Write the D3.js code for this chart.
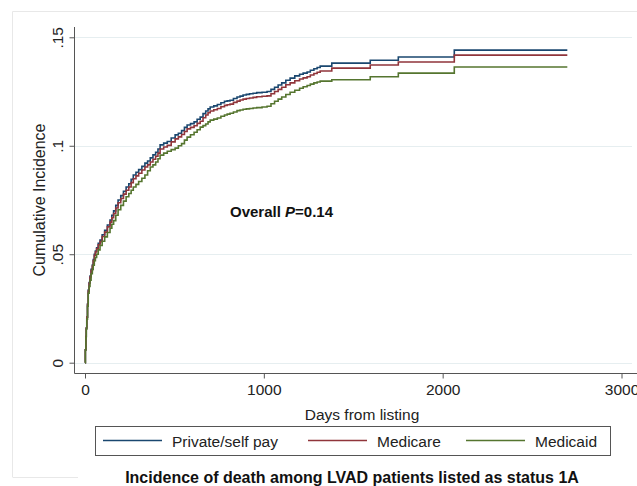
<!DOCTYPE html>
<html>
<head>
<meta charset="utf-8">
<script src="https://cdn.jsdelivr.net/npm/d3@7"></script>
<style>
  body { margin: 0; background: #fff; }
  svg { font-family: Arial, "Liberation Sans", sans-serif; }
  .grid line { stroke: #e6eef0; stroke-width: 1; }
  .axis path, .axis line { stroke: #555; }
  .axis text { fill: #222; font-size: 15.5px; }
  .line { fill: none; stroke-width: 1.6; }
</style>
</head>
<body>
<svg id="chart"></svg>
<script>
// days from listing (shared step times)
const days = [
  0, 2, 5, 7, 10, 14, 18, 23, 28, 34, 41, 46, 52, 58, 65, 74, 84, 96, 110, 125,
  140, 150, 160, 172, 185, 200, 215, 230, 245, 258, 270, 285, 300, 318, 335, 350, 365, 380, 395, 408,
  420, 440, 460, 482, 504, 522, 540, 556, 571, 590, 610, 627, 644, 660, 675, 688, 700, 720, 740, 760,
  780, 795, 811, 830, 850, 867, 884, 902, 920, 940, 960, 990, 1018, 1040, 1060, 1080, 1100, 1123, 1147, 1173,
  1200, 1220, 1242, 1260, 1280, 1298, 1315, 1380, 1595, 1752, 2065, 2697];

const privateSelf = [
  0, 0.006, 0.012, 0.016, 0.021, 0.027, 0.0335, 0.037, 0.040, 0.043, 0.045, 0.0475, 0.050, 0.0515, 0.053, 0.055, 0.0565, 0.059, 0.061, 0.0635,
  0.0658, 0.068, 0.070, 0.0725, 0.075, 0.077, 0.079, 0.081, 0.0825, 0.0845, 0.0865, 0.0878, 0.089, 0.0905, 0.092, 0.093, 0.0944, 0.0958, 0.097, 0.0985,
  0.1004, 0.1012, 0.102, 0.1036, 0.105, 0.1058, 0.107, 0.1085, 0.1096, 0.1102, 0.111, 0.1122, 0.1132, 0.1148, 0.116, 0.117, 0.1179, 0.1184, 0.119, 0.1198,
  0.1205, 0.1207, 0.121, 0.1218, 0.1225, 0.1229, 0.1234, 0.1237, 0.124, 0.1242, 0.1245, 0.1247, 0.125, 0.126, 0.127, 0.128, 0.129, 0.1302, 0.1312, 0.1322,
  0.133, 0.1335, 0.134, 0.1348, 0.1355, 0.1361, 0.1367, 0.1381, 0.1394, 0.1409, 0.1441, 0.1441];

const medicare = [
  0, 0.006, 0.012, 0.016, 0.021, 0.0268, 0.033, 0.0366, 0.0395, 0.0425, 0.0445, 0.047, 0.0495, 0.051, 0.0525, 0.0543, 0.0558, 0.0582, 0.0602, 0.0626,
  0.0648, 0.0668, 0.0688, 0.0713, 0.0737, 0.0757, 0.0777, 0.0795, 0.0810, 0.0830, 0.0848, 0.0861, 0.0873, 0.0888, 0.0902, 0.0912, 0.0925, 0.0938, 0.0952, 0.0966,
  0.0985, 0.0994, 0.1002, 0.1018, 0.1032, 0.1041, 0.1052, 0.1066, 0.1078, 0.1085, 0.1092, 0.1103, 0.1113, 0.1129, 0.1142, 0.1152, 0.1160, 0.1166, 0.1172, 0.1180,
  0.1186, 0.1189, 0.1192, 0.1200, 0.1206, 0.1211, 0.1215, 0.1218, 0.1220, 0.1223, 0.1226, 0.1228, 0.1230, 0.1240, 0.1250, 0.1260, 0.1270, 0.1281, 0.1290, 0.1300,
  0.1308, 0.1313, 0.1318, 0.1326, 0.1333, 0.1339, 0.1345, 0.1358, 0.1372, 0.1386, 0.1418, 0.1418];

const medicaid = [
  0, 0.0058, 0.0115, 0.0155, 0.020, 0.026, 0.032, 0.0352, 0.038, 0.041, 0.043, 0.045, 0.047, 0.0485, 0.050, 0.052, 0.054, 0.056, 0.058, 0.060,
  0.062, 0.0638, 0.0655, 0.068, 0.0705, 0.0725, 0.0745, 0.0765, 0.078, 0.0795, 0.081, 0.0822, 0.0835, 0.085, 0.0865, 0.0885, 0.0902, 0.0912, 0.0925, 0.094,
  0.0957, 0.0966, 0.0975, 0.0982, 0.0989, 0.100, 0.101, 0.1026, 0.104, 0.1051, 0.1062, 0.1074, 0.1086, 0.1093, 0.110, 0.111, 0.1118, 0.1123, 0.1128, 0.1136,
  0.1142, 0.1146, 0.1150, 0.1156, 0.1162, 0.1165, 0.1168, 0.117, 0.1172, 0.1174, 0.1176, 0.1179, 0.1182, 0.1194, 0.1205, 0.1215, 0.1225, 0.1236, 0.1247, 0.1256,
  0.1265, 0.1272, 0.1278, 0.1284, 0.1290, 0.1294, 0.1298, 0.1304, 0.1318, 0.1335, 0.1363, 0.1363];

const seriesNames = ['Private/self pay', 'Medicare', 'Medicaid'];
const seriesColors = ['#1a476f', '#90353b', '#55752f'];
const xTicks = [0, 1000, 2000, 3000];
const yTicks = [0, 0.05, 0.1, 0.15];
const yTickLabels = ['0', '.05', '.1', '.15'];

[privateSelf, medicare, medicaid].forEach((s, i) => {
  if (s.length !== days.length) throw new Error(seriesNames[i] + ' length ' + s.length + ' vs ' + days.length);
});

const W = 637, H = 486;
const svg = d3.select('#chart').attr('width', W).attr('height', H);

// faint graph region border
svg.append('path')
    .attr('d', 'M12.5,477 L12.5,11.5 L' + W + ',11.5 M12.5,477.5 L78,477.5')
    .attr('fill', 'none')
    .attr('stroke', '#e8e8e8');

const x = d3.scaleLinear().domain([0, 3000]).range([85, 621.5]);
const y = d3.scaleLinear().domain([0, 0.15]).range([362.7, 37.3]);
const axisX = 373.5, axisY = 74.5;

// gridlines
svg.append('g').attr('class', 'grid')
  .selectAll('line').data(yTicks).join('line')
    .attr('x1', axisY).attr('x2', 632)
    .attr('y1', d => Math.round(y(d)) + 0.5).attr('y2', d => Math.round(y(d)) + 0.5);

// y axis
const gy = svg.append('g').attr('class', 'axis')
    .attr('transform', 'translate(' + axisY + ',0)')
    .call(d3.axisLeft(y).tickValues(yTicks).tickSize(5).tickSizeOuter(0).tickFormat(''));
gy.select('.domain').attr('d', 'M0,27V' + axisX);
gy.selectAll('.tick').data(yTicks).append('text')
    .attr('transform', 'translate(-12,0) rotate(-90)')
    .attr('text-anchor', 'middle')
    .attr('fill', '#222')
    .text((d, i) => yTickLabels[i]);

// x axis
const gx = svg.append('g').attr('class', 'axis')
    .attr('transform', 'translate(0,' + axisX + ')')
    .call(d3.axisBottom(x).tickValues(xTicks).tickSize(5).tickSizeOuter(0).tickFormat(d3.format('d')));
gx.select('.domain').attr('d', 'M' + axisY + ',0H' + W);
gx.selectAll('.tick text').attr('y', 8).attr('dy', '0.9em');

svg.append('text')
    .attr('transform', 'translate(45,200) rotate(-90)')
    .attr('text-anchor', 'middle')
    .attr('font-size', '16px')
    .attr('fill', '#222')
    .text('Cumulative Incidence');

svg.append('text')
    .attr('x', 362).attr('y', 420)
    .attr('text-anchor', 'middle')
    .attr('font-size', '15.5px')
    .attr('fill', '#222')
    .text('Days from listing');

// curves
const line = d3.line()
    .x(d => x(d[0]))
    .y(d => y(d[1]))
    .curve(d3.curveStepAfter);
[privateSelf, medicare, medicaid].forEach((vals, i) => {
  svg.append('path')
      .datum(days.map((d, j) => [d, vals[j]]))
      .attr('class', 'line')
      .attr('stroke', seriesColors[i])
      .attr('d', line);
});

// annotation
const ann = svg.append('text')
    .attr('x', 230).attr('y', 217)
    .attr('font-size', '15px')
    .attr('font-weight', 'bold')
    .attr('fill', '#111');
ann.append('tspan').text('Overall ');
ann.append('tspan').attr('font-style', 'italic').text('P');
ann.append('tspan').text('=0.14');

// legend
svg.append('rect')
    .attr('x', 95.5).attr('y', 426.5)
    .attr('width', 515).attr('height', 29)
    .attr('fill', '#fff')
    .attr('stroke', '#555');
const legendX = [103, 308, 466];
seriesNames.forEach((name, i) => {
  svg.append('line')
      .attr('x1', legendX[i]).attr('x2', legendX[i] + 59)
      .attr('y1', 440.5).attr('y2', 440.5)
      .attr('stroke', seriesColors[i])
      .attr('stroke-width', 1.4);
  svg.append('text')
      .attr('x', legendX[i] + 69).attr('y', 446.5)
      .attr('font-size', '15.5px')
      .attr('fill', '#222')
      .text(name);
});

svg.append('text')
    .attr('x', 352).attr('y', 482.5)
    .attr('text-anchor', 'middle')
    .attr('font-size', '16px')
    .attr('font-weight', 'bold')
    .attr('fill', '#111')
    .text('Incidence of death among LVAD patients listed as status 1A');
</script>
</body>
</html>
